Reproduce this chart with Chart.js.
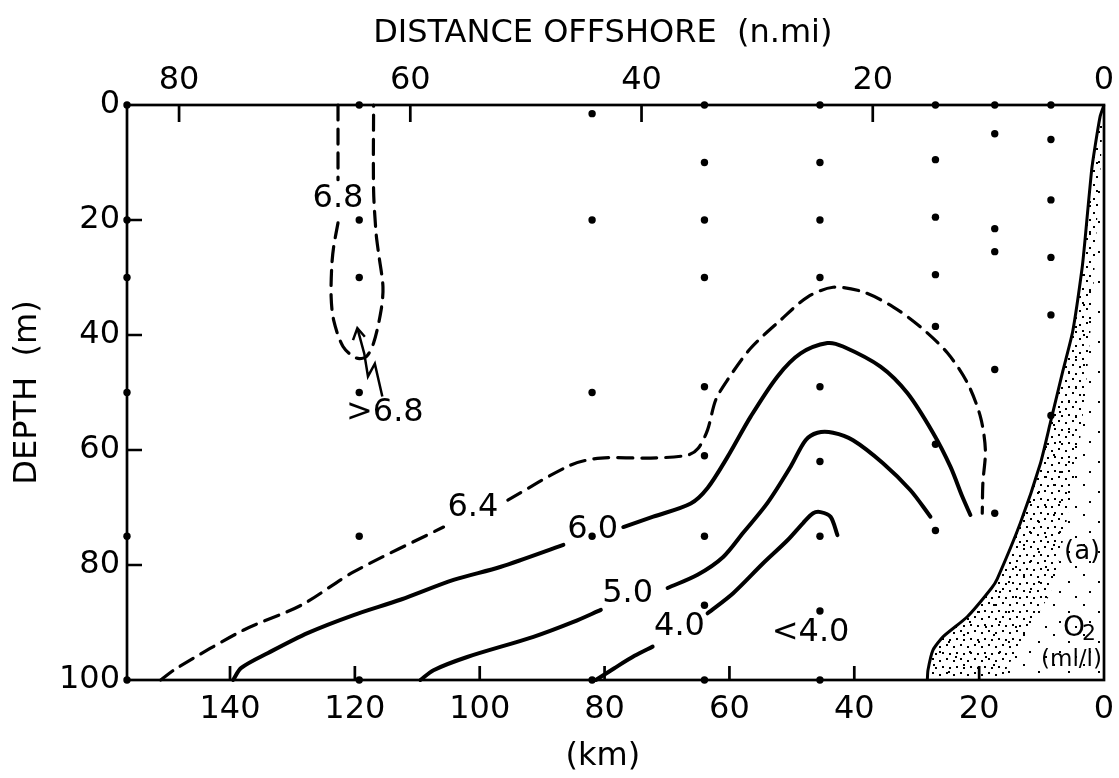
<!DOCTYPE html>
<html lang="en">
<head>
<meta charset="UTF-8">
<title>O2 section offshore</title>
<script src="https://cdn.jsdelivr.net/npm/chart.js"></script>
<style>
  html, body { margin: 0; padding: 0; background: #fff; }
  #wrap { width: 1119px; height: 778px; }
</style>
</head>
<body>
<div id="wrap"><canvas id="section" width="1119" height="778"></canvas></div>
<script>
// distance offshore in km (x), depth in m (y)
const KM_PER_NMI = 1.852;
const KM_MAX = 156.5;
const kmTicks = [0, 20, 40, 60, 80, 100, 120, 140];
const nmiTicks = [0, 20, 40, 60, 80];
const depthTicks = [0, 20, 40, 60, 80, 100];

// stations and the depths sampled at each one
const stationKm = [156.5, 119.3, 82, 64, 45.5, 27, 17.5, 8.5];
const stationDepths = [
  [0, 20, 30, 50, 75, 100],
  [0, 20, 30, 50, 75, 100],
  [1.5, 20, 50, 75, 100],
  [0, 10, 20, 30, 49, 61, 75, 87, 100],
  [0, 10, 20, 30, 49, 62, 75, 88, 100],
  [0, 9.5, 19.5, 29.5, 38.5, 59, 74],
  [0, 5, 21.5, 25.5, 46, 71],
  [0, 6, 16.5, 26.5, 36.5, 54]
];

// isolines [km, depth], split where a label sits
const o2_68 = [
  [[122.7, 0], [122.7, 7], [122.7, 13]],
  [[122.7, 20.5], [123.4, 24.7], [123.7, 28], [123.8, 33.4], [123.4, 37.4], [121.9, 42], [119.8, 44],
   [118.2, 43.8], [117, 41.4], [115.8, 35.7], [115.5, 31.6], [116.2, 25.8], [116.6, 22.3], [117, 14.8], [117, 0]]
];
const o2_64 = [
  [[151.1, 100], [148.6, 98], [137.8, 91.3], [128.6, 87], [120.2, 81.2], [105.8, 73.4]],
  [[95.5, 68.7], [85.4, 62.6], [80.6, 61.4], [72.6, 61.4], [66.7, 60.9], [65, 59.7], [63.5, 56.5], [62.2, 51.3],
   [60.3, 47.8], [56.6, 42.3], [51.8, 37.4], [47.5, 33.4], [43.4, 31.7], [38.6, 32.5], [33.8, 35.1], [29.4, 38.6],
   [25.1, 43.1], [21.9, 48.3], [19.8, 54.2], [19, 60], [19.4, 65.7], [19.5, 71]]
];
const o2_60 = [
  [[139.5, 100], [138.2, 97.9], [133.9, 95.3], [127.5, 91.8], [120.2, 88.7], [112.6, 86], [104.2, 82.6],
   [96.6, 80.3], [86.6, 76.5]],
  [[77, 73.4], [72.2, 71.6], [66.2, 69.3], [63.5, 66.6], [60.3, 61.2], [56.6, 54.2], [52.3, 47.2], [48.6, 43.2],
   [44.3, 41.4], [41.8, 42], [35.8, 45.5], [31.5, 50.1], [27.4, 57], [24.6, 62.9], [22.7, 68.1], [21.4, 71.3]]
];
const o2_50 = [
  [[109.5, 100], [107.4, 98.3], [102, 96], [91.4, 92.5], [85, 89.9], [80.6, 87.8]],
  [[69.9, 84], [65.1, 81.7], [61, 78.6], [57.8, 74.4], [53.9, 69.2], [50.2, 62.9], [47.8, 58.3], [45.9, 57],
   [43.4, 57], [40.2, 58.3], [35.4, 62.3], [31, 67], [27.8, 71.6]]
];
const o2_40 = [
  [[81.4, 100], [78.5, 98], [75.2, 95.8], [72.3, 94.2]],
  [[63.5, 88.4], [59.4, 84.9], [54.6, 79.7], [50.7, 75.7], [48.2, 72.7], [46.6, 71], [45.4, 70.8], [43.8, 71.6],
   [42.7, 74.8]]
];

// sea floor profile and the inner edge of its dense stipple
const bottomProfile = [[0, 0], [0.6, 1.9], [1.4, 7], [2, 11.5], [3, 23], [3.5, 28.3], [5, 39.3], [6.6, 46.3],
  [8.6, 55.3], [10.2, 62.4], [13.4, 72.7], [17.1, 82.4], [18, 84], [21.9, 89], [25.8, 92.5], [27.4, 94.8],
  [28.2, 98.3], [28.3, 100]];
const stippleEdge = [[16.6, 100], [12, 91], [8.6, 85], [6.4, 75], [5, 66], [3.8, 58], [3, 50], [2.2, 40],
  [1.6, 30], [1.1, 20], [0.5, 10], [0.2, 2], [0, 0]];

// pointer from the ">6.8" note
const arrowShaft = [[115.6, 50.7], [116.8, 45], [117.9, 47.2], [118.5, 43.2], [119.6, 38.8]];
const arrowHead = [[120.3, 40.9], [119.6, 38.8], [118.4, 40.3]];

const isoLabels = [
  { text: '6.8', km: 122.7, depth: 16.3 },
  { text: '>6.8', km: 115.2, depth: 53.5 },
  { text: '6.4', km: 101.1, depth: 70 },
  { text: '6.0', km: 81.9, depth: 73.9 },
  { text: '5.0', km: 76.3, depth: 85 },
  { text: '4.0', km: 68, depth: 90.8 },
  { text: '<4.0', km: 47, depth: 91.7 }
];

const FONT = "'DejaVu Sans', 'Liberation Sans', sans-serif";

function pts(list) {
  return list.map(p => ({ x: p[0], y: p[1] }));
}

function stipple(size, dots) {
  const c = document.createElement('canvas');
  c.width = size;
  c.height = size;
  const g = c.getContext('2d');
  g.fillStyle = '#000';
  dots.forEach(d => g.fillRect(d[0], d[1], 2, 2));
  return g.createPattern(c, 'repeat');
}

const denseDots = stipple(14, [[1, 2], [8, 0], [4, 8], [11, 9]]);
const sparseDots = stipple(30, [[3, 4], [18, 11], [9, 21], [25, 26]]);

const datasets = [];

// stippled wedge between profile and the coast
datasets.push({
  data: pts(bottomProfile.concat([[0, 100]])),
  fill: 'shape', backgroundColor: sparseDots, borderWidth: 0, pointRadius: 0, tension: 0
});
datasets.push({
  data: pts(bottomProfile.concat(stippleEdge)),
  fill: 'shape', backgroundColor: denseDots, borderWidth: 0, pointRadius: 0, tension: 0
});
datasets.push({
  data: pts(bottomProfile),
  borderColor: '#000', borderWidth: 3, pointRadius: 0, tension: 0.2, fill: false
});

function addIso(segments, dashed) {
  segments.forEach(seg => {
    datasets.push({
      data: pts(seg),
      borderColor: '#000',
      borderWidth: dashed ? 3.2 : 4,
      borderDash: dashed ? [15, 9] : [],
      borderCapStyle: 'round',
      pointRadius: 0,
      tension: 0.3,
      fill: false
    });
  });
}
addIso(o2_68, true);
addIso(o2_64, true);
addIso(o2_60, false);
addIso(o2_50, false);
addIso(o2_40, false);

datasets.push({ data: pts(arrowShaft), borderColor: '#000', borderWidth: 2.5, pointRadius: 0, tension: 0, fill: false });
datasets.push({ data: pts(arrowHead), borderColor: '#000', borderWidth: 2.5, pointRadius: 0, tension: 0, fill: false });

// station samples
const samples = [];
stationKm.forEach((km, i) => {
  stationDepths[i].forEach(d => samples.push({ x: km, y: d }));
});
datasets.push({
  data: samples, showLine: false, pointRadius: 3.7, pointBackgroundColor: '#000',
  pointBorderWidth: 0, fill: false
});

datasets.forEach(ds => { ds.clip = false; ds.xAxisID = 'x'; ds.yAxisID = 'y'; });

function fixedTicks(values) {
  return scale => { scale.ticks = values.map(v => ({ value: v })); };
}

const sectionDecor = {
  id: 'sectionDecor',
  afterDatasetsDraw(chart) {
    const { ctx, chartArea: a, scales } = chart;
    const xs = scales.x, ys = scales.y, xt = scales.xTop;
    ctx.save();
    ctx.strokeStyle = '#000';
    ctx.lineWidth = 2.7;
    ctx.lineCap = 'butt';
    ctx.strokeRect(a.left, a.top, a.right - a.left, a.bottom - a.top);

    // tick marks pointing into the plot
    ctx.beginPath();
    kmTicks.forEach(v => {
      if (v === 0) return;
      const px = xs.getPixelForValue(v);
      ctx.moveTo(px, a.bottom);
      ctx.lineTo(px, a.bottom - 14);
    });
    nmiTicks.forEach(v => {
      if (v === 0) return;
      const px = xt.getPixelForValue(v);
      ctx.moveTo(px, a.top);
      ctx.lineTo(px, a.top + 17);
    });
    depthTicks.forEach(v => {
      if (v === 0 || v === 100) return;
      const py = ys.getPixelForValue(v);
      ctx.moveTo(a.left, py);
      ctx.lineTo(a.left + 15, py);
    });
    ctx.stroke();

    ctx.fillStyle = '#000';
    ctx.textAlign = 'center';
    ctx.textBaseline = 'middle';
    ctx.font = '32px ' + FONT;
    isoLabels.forEach(l => {
      ctx.fillText(l.text, xs.getPixelForValue(l.km), ys.getPixelForValue(l.depth));
    });

    ctx.font = '26px ' + FONT;
    ctx.fillText('(a)', xs.getPixelForValue(3.5), ys.getPixelForValue(77.7));
    ctx.font = '28px ' + FONT;
    ctx.fillText('O', xs.getPixelForValue(4.8), ys.getPixelForValue(91));
    ctx.font = '22px ' + FONT;
    ctx.fillText('2', xs.getPixelForValue(2.4), ys.getPixelForValue(92));
    ctx.font = '23px ' + FONT;
    ctx.fillText('(ml/l)', xs.getPixelForValue(5.2), ys.getPixelForValue(96.5));

    // axis titles
    const cx = a.left + (a.right - a.left) * 0.487;
    ctx.font = '32px ' + FONT;
    ctx.fillText('DISTANCE OFFSHORE  (n.mi)', cx, 34);
    ctx.fillText('(km)', cx, 757);
    ctx.translate(28, (a.top + a.bottom) / 2);
    ctx.rotate(-Math.PI / 2);
    ctx.fillText('DEPTH  (m)', 0, 0);
    ctx.restore();
  }
};

Chart.defaults.font.family = FONT;
Chart.defaults.color = '#000';

new Chart(document.getElementById('section'), {
  type: 'line',
  data: { datasets: datasets },
  plugins: [sectionDecor],
  options: {
    responsive: false,
    devicePixelRatio: 1,
    animation: false,
    layout: { padding: { left: 0, right: 15, top: 0, bottom: 0 } },
    plugins: { legend: { display: false }, tooltip: { enabled: false } },
    elements: { point: { hoverRadius: 0 } },
    scales: {
      x: {
        type: 'linear', position: 'bottom', reverse: true, min: 0, max: KM_MAX,
        afterBuildTicks: fixedTicks(kmTicks),
        afterFit: s => { s.height = 98; },
        grid: { display: false, drawTicks: false }, border: { display: false },
        ticks: { font: { size: 32 }, color: '#000', padding: 10, maxRotation: 0, autoSkip: false }
      },
      xTop: {
        type: 'linear', position: 'top', reverse: true, min: 0, max: KM_MAX / KM_PER_NMI,
        afterBuildTicks: fixedTicks(nmiTicks),
        afterFit: s => { s.height = 105; },
        grid: { display: false, drawTicks: false }, border: { display: false },
        ticks: { font: { size: 32 }, color: '#000', padding: 5, maxRotation: 0, autoSkip: false }
      },
      y: {
        type: 'linear', position: 'left', reverse: true, min: 0, max: 100,
        afterBuildTicks: fixedTicks(depthTicks),
        afterFit: s => { s.width = 127; },
        grid: { display: false, drawTicks: false }, border: { display: false },
        ticks: { font: { size: 32 }, color: '#000', padding: 7, autoSkip: false }
      }
    }
  }
});
</script>
</body>
</html>
